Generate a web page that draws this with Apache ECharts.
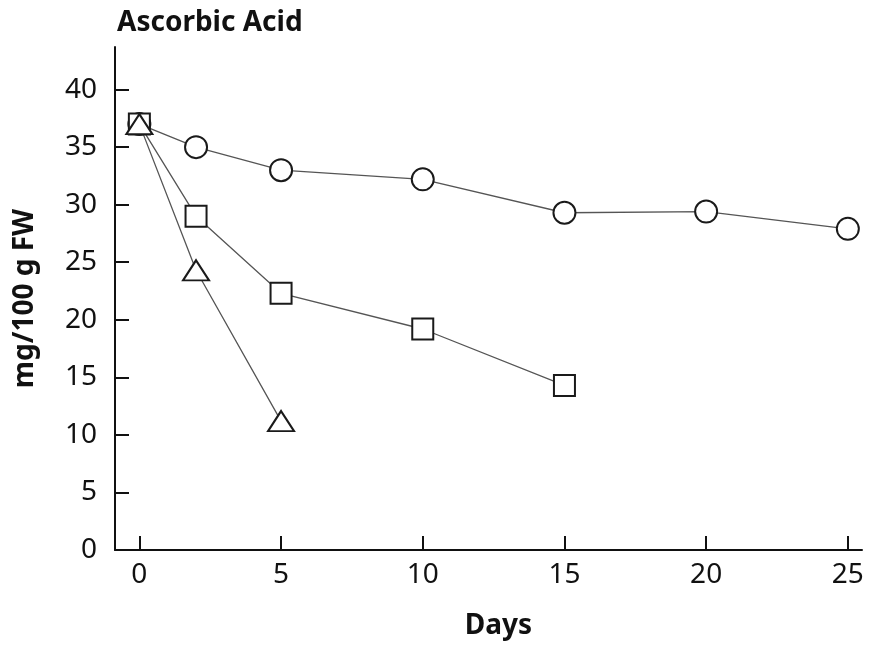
<!DOCTYPE html>
<html>
<head>
<meta charset="utf-8">
<script src="https://cdn.jsdelivr.net/npm/echarts@6/dist/echarts.min.js"></script>
<style>
  html, body { margin: 0; padding: 0; background: #fff; }
  #chart { width: 869px; height: 646px; }
</style>
</head>
<body>
<div id="chart"></div>
<script>
// Ascorbic acid content over storage time, three treatments
const circleDays = [0, 2, 5, 10, 15, 20, 25];
const circleVals = [37, 35, 33, 32.2, 29.3, 29.4, 27.9];

const squareDays = [0, 2, 5, 10, 15];
const squareVals = [37, 29, 22.3, 19.2, 14.3];

const triangleDays = [0, 2, 5];
const triangleVals = [37, 24.3, 11.2];

const xTicks = [0, 5, 10, 15, 20, 25];
const yTicks = [0, 5, 10, 15, 20, 25, 30, 35, 40];

const FONT = '"Noto Sans", "Open Sans", sans-serif';

function pairs(xs, ys) {
  return xs.map((x, i) => [x, ys[i]]);
}

const markerStyle = { color: '#fff', borderColor: '#1a1a1a', borderWidth: 2 };
const lineStyle = { color: '#555', width: 1.3 };

function makeSeries(data, symbol, size) {
  return {
    type: 'line',
    data: data,
    symbol: symbol,
    symbolSize: size,
    showAllSymbol: true,
    lineStyle: lineStyle,
    itemStyle: markerStyle,
    emphasis: { disabled: true },
    animation: false
  };
}

const chart = echarts.init(document.getElementById('chart'), null, { renderer: 'canvas' });

chart.setOption({
  backgroundColor: '#fff',
  animation: false,
  title: {
    text: 'Ascorbic Acid',
    left: 112,
    top: 4,
    textStyle: { fontFamily: FONT, fontSize: 28, fontWeight: 'bold', color: '#111' }
  },
  grid: { left: 115, right: 7, top: 47, bottom: 96, containLabel: false },
  xAxis: {
    type: 'value',
    min: -0.86,
    max: 25.5,
    name: 'Days',
    nameLocation: 'middle',
    nameGap: 62,
    nameTextStyle: { fontFamily: FONT, fontSize: 28, fontWeight: 'bold', color: '#111', padding: [0, 0, 0, 20] },
    axisLine: { onZero: false, lineStyle: { color: '#111', width: 2 } },
    axisTick: { show: true, inside: true, length: 14, lineStyle: { color: '#111', width: 2 }, customValues: xTicks },
    axisLabel: { fontFamily: FONT, fontSize: 28, color: '#111', margin: 11, customValues: xTicks },
    splitLine: { show: false }
  },
  yAxis: {
    type: 'value',
    min: 0,
    max: 43.7,
    name: 'mg/100 g FW',
    nameLocation: 'middle',
    nameGap: 76,
    nameTextStyle: { fontFamily: FONT, fontSize: 28, fontWeight: 'bold', color: '#111' },
    axisLine: { show: true, onZero: false, lineStyle: { color: '#111', width: 2 } },
    axisTick: { show: true, inside: true, length: 14, lineStyle: { color: '#111', width: 2 }, customValues: yTicks },
    axisLabel: { fontFamily: FONT, fontSize: 28, color: '#111', margin: 18, customValues: yTicks },
    splitLine: { show: false }
  },
  series: [
    makeSeries(pairs(circleDays, circleVals), 'circle', 22),
    makeSeries(pairs(squareDays, squareVals), 'rect', 21),
    makeSeries(pairs(triangleDays, triangleVals), 'triangle', [26, 20])
  ]
});
</script>
</body>
</html>
